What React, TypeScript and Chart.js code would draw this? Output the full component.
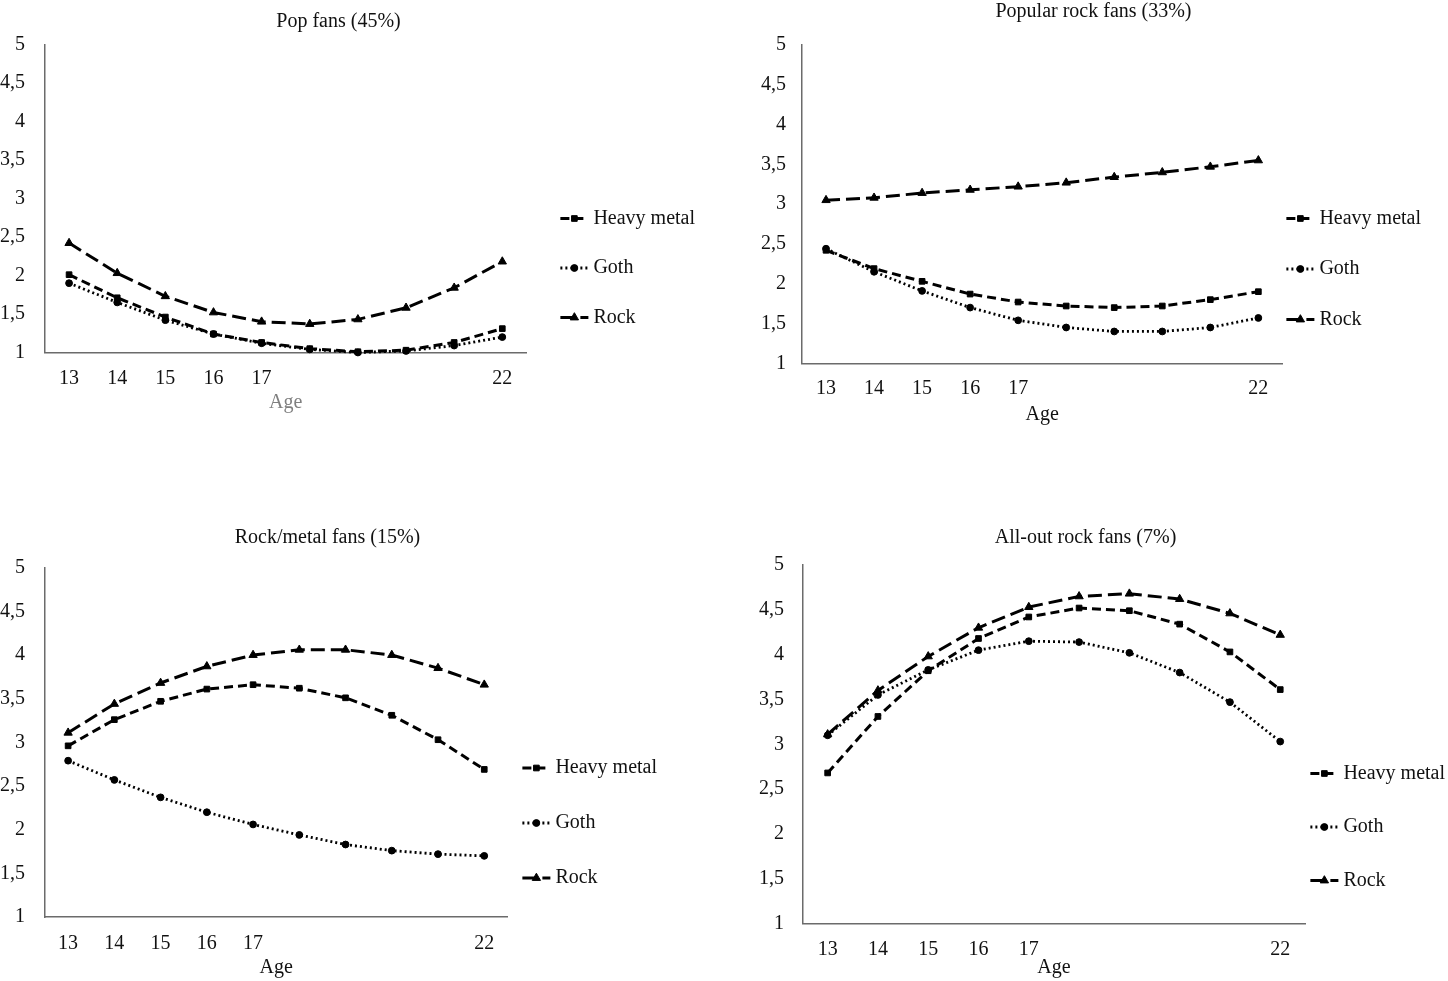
import React, { useEffect, useRef } from 'react';
import { Chart, registerables } from 'chart.js';
import { drawPoint } from 'chart.js/helpers';

Chart.register(...registerables);

const FONT_FAMILY = '"Liberation Serif", "Times New Roman", Times, serif';
const FONT_SIZE = 20;

// ---------------- data ----------------
const AGES = ['13', '14', '15', '16', '17', '18', '19', '20', '21', '22'];
const AGE_TICK_LABELS = ['13', '14', '15', '16', '17', '', '', '', '', '22'];
const SERIES_NAMES = ['Heavy metal', 'Goth', 'Rock'];
const Y_MIN = 1;
const Y_MAX = 5;
const Y_STEP = 0.5;
const X_TITLE = 'Age';

const POP_TITLE = 'Pop fans (45%)';
const POP_HEAVY_METAL = [2.01, 1.71, 1.46, 1.24, 1.13, 1.05, 1.01, 1.03, 1.13, 1.31];
const POP_GOTH = [1.9, 1.65, 1.42, 1.24, 1.12, 1.04, 1.0, 1.02, 1.09, 1.2];
const POP_ROCK = [2.42, 2.03, 1.73, 1.52, 1.4, 1.37, 1.43, 1.58, 1.84, 2.18];

const POPROCK_TITLE = 'Popular rock fans (33%)';
const POPROCK_HEAVY_METAL = [2.42, 2.19, 2.03, 1.87, 1.77, 1.72, 1.7, 1.72, 1.8, 1.9];
const POPROCK_GOTH = [2.44, 2.15, 1.91, 1.7, 1.54, 1.45, 1.4, 1.4, 1.45, 1.57];
const POPROCK_ROCK = [3.05, 3.08, 3.14, 3.18, 3.22, 3.27, 3.34, 3.4, 3.47, 3.55];

const ROCKMETAL_TITLE = 'Rock/metal fans (15%)';
const ROCKMETAL_HEAVY_METAL = [2.96, 3.26, 3.47, 3.61, 3.66, 3.62, 3.51, 3.31, 3.03, 2.69];
const ROCKMETAL_GOTH = [2.79, 2.57, 2.37, 2.2, 2.06, 1.94, 1.83, 1.76, 1.72, 1.7];
const ROCKMETAL_ROCK = [3.11, 3.44, 3.68, 3.87, 4.0, 4.06, 4.06, 4.0, 3.85, 3.66];

const ALLOUT_TITLE = 'All-out rock fans (7%)';
const ALLOUT_HEAVY_METAL = [2.68, 3.31, 3.82, 4.18, 4.42, 4.52, 4.49, 4.34, 4.03, 3.61];
const ALLOUT_GOTH = [3.1, 3.55, 3.83, 4.05, 4.15, 4.14, 4.02, 3.8, 3.47, 3.03];
const ALLOUT_ROCK = [3.11, 3.6, 3.98, 4.3, 4.53, 4.65, 4.68, 4.62, 4.46, 4.22];

// ---------------- styles ----------------
const SERIES_STYLE = [
  { borderDash: [9, 5], pointStyle: 'rect', pointRadius: 4, borderWidth: 3 },
  { borderDash: [2, 3], pointStyle: 'circle', pointRadius: 3.4, borderWidth: 2.8 },
  { borderDash: [14, 6], pointStyle: 'triangle', pointRadius: 4.8, borderWidth: 3 },
];

// page-coordinate targets for each panel (layout only)
const PANEL_BOXES = [
  { chartL: 45, chartR: 526, chartT: 44.3, chartB: 352.5, titleX: 338, titleY: 22, yLabelRight: 25, xLabelY: 379, ageY: 403, legendTextX: 593, legendYs: [218, 268, 317], ageColor: '#7f7f7f' },
  { chartL: 802, chartR: 1282, chartT: 45, chartB: 363.3, titleX: 1093, titleY: 12, yLabelRight: 786, xLabelY: 389, ageY: 415, legendTextX: 1319, legendYs: [218, 268, 319], ageColor: '#111' },
  { chartL: 45, chartR: 507, chartT: 567.7, chartB: 917, titleX: 327, titleY: 537.5, yLabelRight: 25, xLabelY: 943.5, ageY: 968, legendTextX: 555, legendYs: [768, 823, 878], ageColor: '#111' },
  { chartL: 802.5, chartR: 1305, chartT: 565, chartB: 923.5, titleX: 1085, titleY: 537.5, yLabelRight: 784, xLabelY: 950, ageY: 968, legendTextX: 1343, legendYs: [773, 827, 880], ageColor: '#111' },
];

function measureText(text: string): number {
  const c = document.createElement('canvas');
  const ctx = c.getContext('2d')!;
  ctx.font = `${FONT_SIZE}px ${FONT_FAMILY}`;
  return ctx.measureText(text).width;
}

function computeLayout(b: any, tw: number) {
  const canvasRight = b.legendTextX + tw + 10;
  const W = Math.round(2 * (canvasRight - b.titleX));
  const left = Math.round(canvasRight) - W;
  const mid = (b.legendYs[0] + b.legendYs[2]) / 2;
  const spacing = (b.legendYs[2] - b.legendYs[0]) / 2;
  const half = Math.ceil(Math.max(mid - (b.titleY - 20), b.ageY + 20 - mid));
  const H = 2 * half;
  const top = Math.round(mid - half);
  const xHeight = top + H - b.chartB;
  const legendPad = 4;
  return {
    left,
    top,
    W,
    H,
    titlePadTop: b.titleY - 12 - top,
    titlePadBottom: b.chartT - b.titleY - 12,
    yWidth: b.chartL - left,
    yPad: b.chartL - b.yLabelRight,
    xHeight,
    xPad: b.xLabelY - b.chartB - 12,
    xTitlePadBottom: xHeight - 12 - (b.ageY - b.chartB),
    legendPad,
    boxHeight: spacing - legendPad,
    boxWidth: b.legendTextX - b.chartR - legendPad - 10,
  };
}

const legendSamplePlugin = {
  id: 'legendSamples',
  afterDraw(chart: any) {
    const legend = chart.legend;
    if (!legend || !legend.legendHitBoxes) return;
    const bw = legend.options.labels.boxWidth;
    const ctx = chart.ctx;
    legend.legendHitBoxes.forEach((hb: any, i: number) => {
      const ds = chart.data.datasets[i];
      if (!ds) return;
      const textX = hb.left + bw + FONT_SIZE / 2;
      const cy = hb.top + hb.height / 2;
      const x0 = textX - 33;
      const x1 = textX - 5;
      ctx.save();
      ctx.strokeStyle = '#000';
      ctx.lineWidth = ds.borderWidth;
      ctx.setLineDash(ds.borderDash);
      ctx.beginPath();
      ctx.moveTo(x0, cy);
      ctx.lineTo(x1, cy);
      ctx.stroke();
      ctx.setLineDash([]);
      ctx.fillStyle = '#000';
      ctx.strokeStyle = '#000';
      ctx.lineWidth = 1;
      drawPoint(ctx, { pointStyle: ds.pointStyle, radius: ds.pointRadius, rotation: 0, borderWidth: 1 } as any, (x0 + x1) / 2, cy);
      ctx.restore();
    });
  },
};

function Panel({ title, series, box }: { title: string; series: number[][]; box: any }) {
  const ref = useRef<HTMLCanvasElement>(null);
  const L = computeLayout(box, measureText('Heavy metal'));

  useEffect(() => {
    const canvas = ref.current!;
    const font = { family: FONT_FAMILY, size: FONT_SIZE };
    const chart = new Chart(canvas, {
      type: 'line',
      data: {
        labels: AGES,
        datasets: SERIES_NAMES.map((name, i) => ({
          label: name,
          data: series[i],
          borderColor: '#000',
          backgroundColor: '#000',
          borderWidth: SERIES_STYLE[i].borderWidth,
          borderDash: SERIES_STYLE[i].borderDash,
          pointStyle: SERIES_STYLE[i].pointStyle as any,
          pointRadius: SERIES_STYLE[i].pointRadius,
          pointBackgroundColor: '#000',
          pointBorderColor: '#000',
          pointBorderWidth: 1,
          tension: 0,
          fill: false,
          clip: false as any,
        })),
      },
      options: {
        responsive: false,
        animation: false,
        events: [],
        layout: { padding: 0 },
        scales: {
          x: {
            type: 'category',
            offset: true,
            grid: { display: false, drawTicks: false },
            border: { display: true, color: '#6b6b6b', width: 1.5 },
            ticks: {
              autoSkip: false,
              maxRotation: 0,
              minRotation: 0,
              padding: L.xPad,
              font,
              color: '#111',
              callback: (_v: any, i: number) => AGE_TICK_LABELS[i],
            },
            title: {
              display: true,
              text: X_TITLE,
              font,
              color: box.ageColor,
              padding: { top: 0, bottom: L.xTitlePadBottom },
            },
            afterFit: (s: any) => {
              s.height = L.xHeight;
            },
          },
          y: {
            type: 'linear',
            min: Y_MIN,
            max: Y_MAX,
            grid: { display: false, drawTicks: false },
            border: { display: true, color: '#6b6b6b', width: 1.5 },
            ticks: {
              stepSize: Y_STEP,
              padding: L.yPad,
              font,
              color: '#111',
              callback: (v: any) => String(v).replace('.', ','),
            },
            afterFit: (s: any) => {
              s.width = L.yWidth;
            },
          },
        },
        plugins: {
          title: {
            display: true,
            text: title,
            font: { family: FONT_FAMILY, size: FONT_SIZE, weight: 'normal' as any },
            color: '#111',
            padding: { top: L.titlePadTop, bottom: L.titlePadBottom },
          },
          legend: {
            display: true,
            position: 'right',
            align: 'center',
            onClick: () => {},
            labels: {
              boxWidth: L.boxWidth,
              boxHeight: L.boxHeight,
              padding: L.legendPad,
              font,
              color: '#111',
              generateLabels: (ch: any) =>
                ch.data.datasets.map((ds: any, i: number) => ({
                  text: ds.label,
                  fillStyle: 'rgba(0,0,0,0)',
                  strokeStyle: 'rgba(0,0,0,0)',
                  lineWidth: 0,
                  hidden: false,
                  datasetIndex: i,
                  fontColor: '#111',
                })),
            },
          },
          tooltip: { enabled: false },
        },
      },
      plugins: [legendSamplePlugin],
    });
    return () => chart.destroy();
  }, []);

  return (
    <canvas
      ref={ref}
      width={L.W}
      height={L.H}
      style={{ position: 'absolute', left: L.left, top: L.top, width: L.W, height: L.H }}
    />
  );
}

export default function App() {
  Chart.defaults.font.family = FONT_FAMILY;
  return (
    <div
      style={{
        position: 'fixed',
        left: 0,
        top: 0,
        width: 1448,
        height: 981,
        overflow: 'hidden',
        background: '#fff',
      }}
    >
      <Panel title={POP_TITLE} series={[POP_HEAVY_METAL, POP_GOTH, POP_ROCK]} box={PANEL_BOXES[0]} />
      <Panel title={POPROCK_TITLE} series={[POPROCK_HEAVY_METAL, POPROCK_GOTH, POPROCK_ROCK]} box={PANEL_BOXES[1]} />
      <Panel title={ROCKMETAL_TITLE} series={[ROCKMETAL_HEAVY_METAL, ROCKMETAL_GOTH, ROCKMETAL_ROCK]} box={PANEL_BOXES[2]} />
      <Panel title={ALLOUT_TITLE} series={[ALLOUT_HEAVY_METAL, ALLOUT_GOTH, ALLOUT_ROCK]} box={PANEL_BOXES[3]} />
    </div>
  );
}
